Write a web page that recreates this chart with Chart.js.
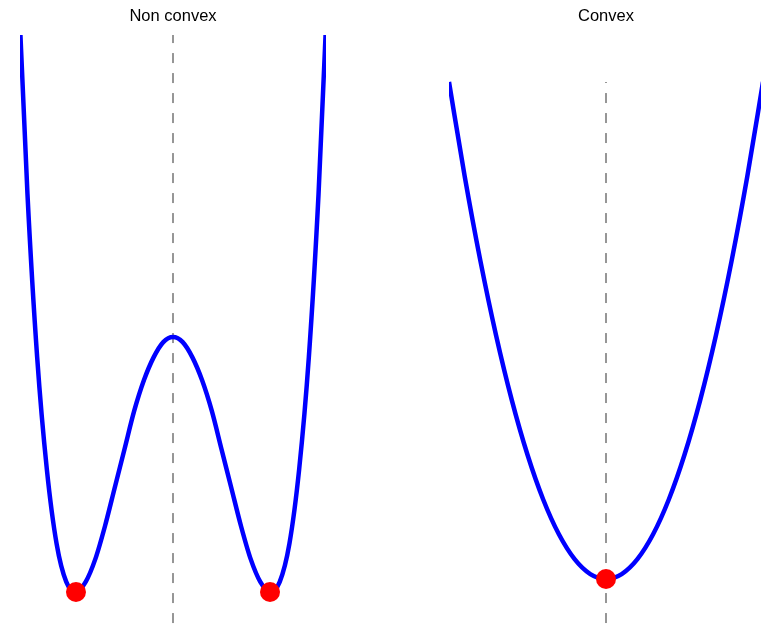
<!DOCTYPE html>
<html>
<head>
<meta charset="utf-8">
<script src="https://cdn.jsdelivr.net/npm/chart.js@4/dist/chart.umd.min.js"></script>
<style>
html,body{margin:0;padding:0;width:761px;height:628px;overflow:hidden;background:#fff;}
canvas{position:absolute;top:0;}
</style>
</head>
<body>
<canvas id="left" width="306" height="628" style="left:20px;width:306px;height:628px"></canvas>
<canvas id="right" width="314" height="628" style="left:449px;width:314px;height:628px"></canvas>
<script>
// ---- Non convex panel ----
const nonConvexX = [-1.6,-1.5,-1.4,-1.3,-1.2,-1.1,-1.0,-0.9,-0.8,-0.7,-0.6,-0.5,-0.4,-0.3,-0.2,-0.1,0,
                    0.1,0.2,0.3,0.4,0.5,0.6,0.7,0.8,0.9,1.0,1.1,1.2,1.3,1.4,1.5,1.6];
const nonConvexY = [1.43,0.56,-0.08,-0.52,-0.81,-0.96,-1.00,-0.96,-0.87,-0.74,-0.59,-0.44,-0.29,-0.17,-0.08,-0.02,0.00,
                    -0.02,-0.08,-0.17,-0.29,-0.44,-0.59,-0.74,-0.87,-0.96,-1.00,-0.96,-0.81,-0.52,-0.08,0.56,1.43];
const nonConvexMinX = [-1, 1];
const nonConvexMinY = [-1, -1];
const nonConvexGuideX = [0, 0];
const nonConvexGuideY = [-1.2, 1.3];
const nonConvexRangeX = [-1.577, 1.577];
const nonConvexRangeY = [-1.141, 1.184];

// ---- Convex panel ----
const convexX = [-2.0,-1.8,-1.6,-1.4,-1.2,-1.0,-0.8,-0.6,-0.4,-0.2,0,0.2,0.4,0.6,0.8,1.0,1.2,1.4,1.6,1.8,2.0];
const convexY = [4.00,3.24,2.56,1.96,1.44,1.00,0.64,0.36,0.16,0.04,0.00,0.04,0.16,0.36,0.64,1.00,1.44,1.96,2.56,3.24,4.00];
const convexMinX = [0];
const convexMinY = [0];
const convexGuideX = [0, 0];
const convexGuideY = [-0.515, 4.0];
const convexRangeX = [-2, 2];
const convexRangeY = [-0.394, 4.378];

const titles = ["Non convex", "Convex"];

function pts(xs, ys){ return xs.map((x,i)=>({x:x, y:ys[i]})); }

function makeChart(id, title, cx, cy, mx, my, gx, gy, rx, ry){
  new Chart(document.getElementById(id), {
    type: 'scatter',
    data: {
      datasets: [
        { data: pts(mx, my), pointRadius: 10, pointHoverRadius: 10,
          backgroundColor: '#ff0000', borderWidth: 0, pointBorderWidth: 0,
          clip: 12 },
        { data: pts(cx, cy), showLine: true, pointRadius: 0, borderColor: '#0000ff',
          borderWidth: 4.5, cubicInterpolationMode: 'monotone',
          clip: {left: 5, right: 5, top: 0, bottom: 5} },
        { data: pts(gx, gy), showLine: true, pointRadius: 0, borderColor: 'rgba(0,0,0,0.55)',
          borderWidth: 1.5, borderDash: [10, 10],
          clip: {left: 5, right: 5, top: 0, bottom: 20} }
      ]
    },
    options: {
      responsive: false,
      animation: false,
      devicePixelRatio: 1,
      layout: { padding: 0, autoPadding: false },
      plugins: {
        legend: { display: false },
        tooltip: { enabled: false },
        title: { display: true, text: title, color: '#000',
          font: { family: "'Liberation Sans', Arial, sans-serif", size: 16.5, weight: 'normal', lineHeight: 1.2 },
          padding: { top: 7, bottom: 8.2 } }
      },
      scales: {
        x: { type: 'linear', display: false, min: rx[0], max: rx[1] },
        y: { type: 'linear', display: false, min: ry[0], max: ry[1] }
      }
    }
  });
}

makeChart('left', titles[0], nonConvexX, nonConvexY, nonConvexMinX, nonConvexMinY,
          nonConvexGuideX, nonConvexGuideY, nonConvexRangeX, nonConvexRangeY);
makeChart('right', titles[1], convexX, convexY, convexMinX, convexMinY,
          convexGuideX, convexGuideY, convexRangeX, convexRangeY);
</script>
</body>
</html>
